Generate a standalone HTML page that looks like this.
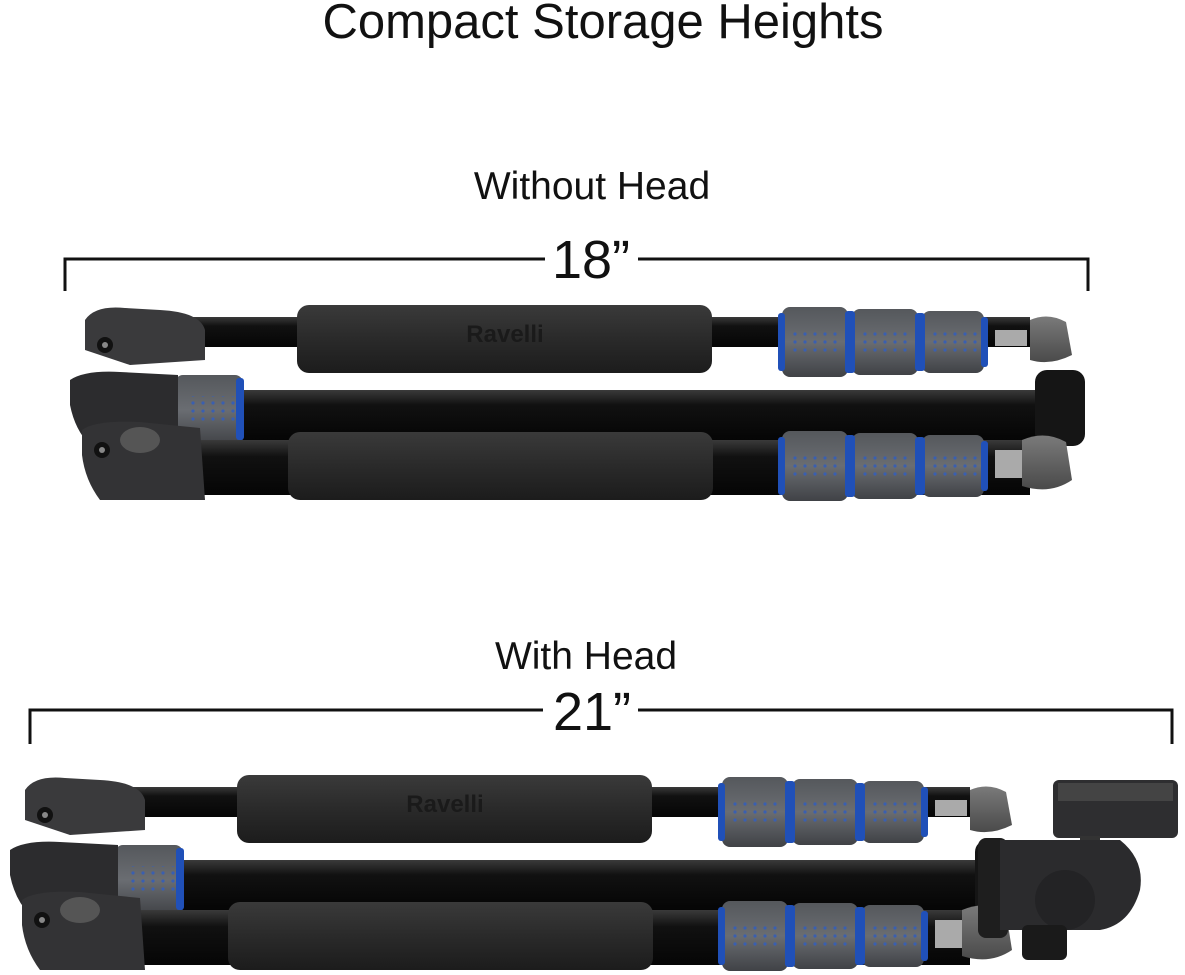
<!DOCTYPE html>
<html><head><meta charset="utf-8">
<style>
html,body{margin:0;padding:0;background:#fff;}
svg{display:block}
text{font-family:"Liberation Sans",sans-serif;fill:#111}
</style></head>
<body>
<svg width="1185" height="975" viewBox="0 0 1185 975" xmlns="http://www.w3.org/2000/svg">
<defs>
  <linearGradient id="tube" x1="0" y1="0" x2="0" y2="1">
    <stop offset="0" stop-color="#3a3a3a"/><stop offset="0.3" stop-color="#111"/><stop offset="1" stop-color="#050505"/>
  </linearGradient>
  <linearGradient id="foam" x1="0" y1="0" x2="0" y2="1">
    <stop offset="0" stop-color="#3a3a3a"/><stop offset="0.5" stop-color="#2a2a2a"/><stop offset="1" stop-color="#1c1c1c"/>
  </linearGradient>
  <linearGradient id="col" x1="0" y1="0" x2="0" y2="1">
    <stop offset="0" stop-color="#55585c"/><stop offset="0.5" stop-color="#6a6d72"/><stop offset="1" stop-color="#404246"/>
  </linearGradient>
  <linearGradient id="foot" x1="0" y1="0" x2="0" y2="1">
    <stop offset="0" stop-color="#7a7a7a"/><stop offset="1" stop-color="#4a4a4a"/>
  </linearGradient>
  <pattern id="dots" width="10" height="8" patternUnits="userSpaceOnUse">
    <circle cx="3" cy="3" r="1.6" fill="#3a5fb0"/>
  </pattern>
  <g id="collars">
    <rect x="0" y="0" width="66" height="70" rx="8" fill="url(#col)"/>
    <rect x="8" y="22" width="52" height="26" fill="url(#dots)"/>
    <rect x="70" y="2" width="66" height="66" rx="8" fill="url(#col)"/>
    <rect x="78" y="22" width="52" height="26" fill="url(#dots)"/>
    <rect x="140" y="4" width="62" height="62" rx="8" fill="url(#col)"/>
    <rect x="148" y="22" width="48" height="26" fill="url(#dots)"/>
    <rect x="63" y="4" width="10" height="62" rx="3" fill="#2050b8"/>
    <rect x="133" y="6" width="10" height="58" rx="3" fill="#2050b8"/>
    <rect x="199" y="10" width="7" height="50" rx="3" fill="#2050b8"/>
    <rect x="-4" y="6" width="7" height="58" rx="3" fill="#2050b8"/>
  </g>
  <g id="tripod">
    <rect x="150" y="317" width="880" height="30" fill="url(#tube)"/>
    <rect x="297" y="305" width="415" height="68" rx="12" fill="url(#foam)"/>
    <text x="505" y="342" font-size="24" font-weight="bold" text-anchor="middle" style="fill:#1a1a1a">Ravelli</text>
    <use href="#collars" x="782" y="307"/>
    <rect x="995" y="330" width="32" height="16" fill="#aaa"/>
    <path d="M1030 320 Q1048 312 1066 322 L1072 355 Q1050 366 1030 360 Z" fill="url(#foot)"/>
    <rect x="180" y="390" width="870" height="50" fill="url(#tube)"/>
    <rect x="175" y="375" width="68" height="70" rx="8" fill="url(#col)"/>
    <rect x="185" y="396" width="50" height="26" fill="url(#dots)"/>
    <rect x="236" y="378" width="8" height="62" rx="3" fill="#2050b8"/>
    <rect x="1035" y="370" width="50" height="76" rx="12" fill="#151515"/>
    <rect x="200" y="440" width="830" height="55" fill="url(#tube)"/>
    <rect x="288" y="432" width="425" height="68" rx="12" fill="url(#foam)"/>
    <use href="#collars" x="782" y="431"/>
    <rect x="995" y="450" width="32" height="28" fill="#aaa"/>
    <path d="M1022 440 Q1045 430 1066 442 L1072 480 Q1050 495 1022 486 Z" fill="url(#foot)"/>
    <path d="M85 320 Q95 305 125 308 L160 310 Q200 312 205 330 L205 360 L130 365 L85 350 Z" fill="#3a3a3c"/>
    <circle cx="105" cy="345" r="8" fill="#111"/><circle cx="105" cy="345" r="3" fill="#888"/>
    <path d="M70 380 Q85 370 120 372 L178 375 L178 445 L90 445 Q75 430 70 405 Z" fill="#2c2c2e"/>
    <path d="M82 430 Q95 420 140 422 L200 428 L205 500 L100 500 Q85 480 82 455 Z" fill="#333335"/>
    <ellipse cx="140" cy="440" rx="20" ry="13" fill="#555"/>
    <circle cx="102" cy="450" r="8" fill="#111"/><circle cx="102" cy="450" r="3" fill="#888"/>
  </g>
</defs>

<text x="603" y="38" font-size="49" text-anchor="middle">Compact Storage Heights</text>
<text x="592" y="199" font-size="39" text-anchor="middle">Without Head</text>
<path d="M65 291 V259 H545 M638 259 H1088 V291" stroke="#111" stroke-width="3" fill="none"/>
<text x="591" y="278" font-size="54" text-anchor="middle">18”</text>

<use href="#tripod"/>

<text x="586" y="669" font-size="39" text-anchor="middle">With Head</text>
<path d="M30 744 V710 H543 M638 710 H1172 V744" stroke="#111" stroke-width="3" fill="none"/>
<text x="592" y="730" font-size="54" text-anchor="middle">21”</text>

<use href="#tripod" x="-60" y="470"/>
<rect x="1053" y="780" width="125" height="58" rx="6" fill="#2e2e30"/>
<rect x="1058" y="783" width="115" height="18" fill="#444"/>
<rect x="1080" y="836" width="20" height="12" fill="#333"/>
<rect x="978" y="838" width="30" height="100" rx="8" fill="#1e1e1e"/>
<path d="M1000 840 H1120 Q1145 860 1140 890 Q1130 925 1100 930 H1000 Z" fill="#2b2b2d"/>
<circle cx="1065" cy="900" r="30" fill="#232325"/>
<rect x="1022" y="925" width="45" height="35" rx="6" fill="#1a1a1a"/>
</svg>
</body></html>
